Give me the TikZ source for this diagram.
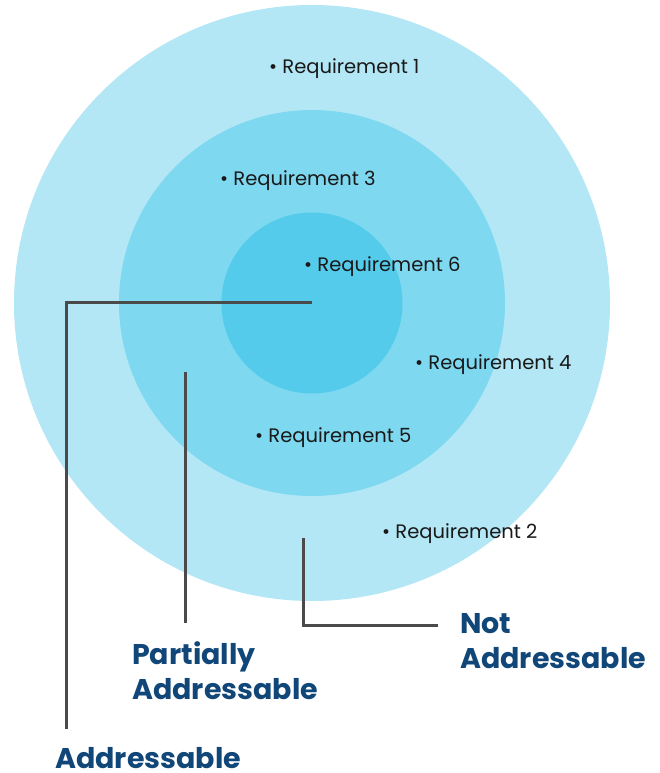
\documentclass[tikz,border=0pt]{standalone}
\usepackage{fontspec}
\setmainfont{Poppins}
\definecolor{ringOuter}{HTML}{B3E7F5}
\definecolor{ringMid}{HTML}{7DD8F0}
\definecolor{ringInner}{HTML}{55CBEB}
\definecolor{leader}{HTML}{4A4A4A}
\definecolor{labelBlue}{HTML}{114679}
\begin{document}
\begin{tikzpicture}[x=1pt,y=-1pt,
  ring/.style={circle,inner sep=0pt,draw=none},
  req/.style={anchor=base west,inner sep=0pt,font=\fontsize{19.5}{22}\selectfont,text=black!90},
  zone/.style={anchor=base west,inner sep=0pt,align=left,text=labelBlue,
    font=\fontsize{28.5}{35}\selectfont\bfseries},
  leaderline/.style={draw=leader,line width=3pt}]
\useasboundingbox (0,0) rectangle (659,773);
% nested rings
\node[ring,fill=ringOuter,minimum size=596pt] (outer) at (312,303) {};
\node[ring,fill=ringMid,minimum size=386pt] (mid) at (312,303) {};
\node[ring,fill=ringInner,minimum size=181pt] (inner) at (312,303) {};
% requirements
\node[req] (r1) at (269,74) {• Requirement 1};
\node[req] (r3) at (220,185) {• Requirement 3};
\node[req] (r6) at (304,271) {• Requirement 6};
\node[req] (r4) at (415,369) {• Requirement 4};
\node[req] (r5) at (255,442) {• Requirement 5};
\node[req] (r2) at (382,538) {• Requirement 2};
% zone labels (base anchor sits on the last line)
\node[zone] (lA) at (55,768) {Addressable};
\node[zone] (lP) at (132,699) {Partially\\Addressable};
\node[zone] (lN) at (460,668) {Not\\Addressable};
% leader lines
\coordinate (aStart) at (inner.center);
\coordinate (aBend) at (66,302);
\coordinate (aEnd) at (66,729);
\coordinate (pStart) at (185,372);
\coordinate (pEnd) at (185,623);
\coordinate (nStart) at (303,538);
\coordinate (nBend) at (303,625);
\coordinate (nEnd) at (438,625);
\draw[leaderline] (aStart |- aBend) -- (aBend) -- (aEnd);
\draw[leaderline] (pStart) -- (pEnd);
\draw[leaderline] (nStart) -- (nBend) -- (nEnd);
\end{tikzpicture}
\end{document}
